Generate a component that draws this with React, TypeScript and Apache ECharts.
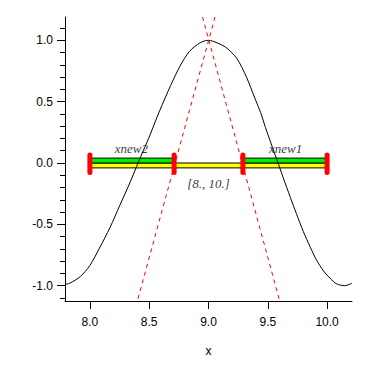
import React, { useEffect, useRef } from "react";
import * as echarts from "echarts";

// black curve
const curveX = [7.79, 7.83, 7.92, 8.0, 8.08, 8.17, 8.25, 8.34, 8.41, 8.45, 8.51, 8.55, 8.59, 8.68, 8.76, 8.84, 8.93, 9.0, 9.07, 9.15, 9.24, 9.32, 9.39, 9.44, 9.48, 9.52, 9.56, 9.59, 9.63, 9.69, 9.74, 9.8, 9.86, 9.91, 9.97, 10.03, 10.08, 10.15, 10.21];
const curveY = [-0.99, -0.98, -0.925, -0.835, -0.695, -0.525, -0.35, -0.155, 0.01, 0.1, 0.235, 0.335, 0.43, 0.63, 0.79, 0.91, 0.98, 1.0, 0.98, 0.94, 0.85, 0.7, 0.53, 0.41, 0.29, 0.18, 0.07, -0.01, -0.12, -0.28, -0.41, -0.56, -0.69, -0.79, -0.88, -0.945, -0.985, -1.0, -0.98];

// red dashed lines (endpoints)
const lineAX = [8.95, 9.6];
const lineAY = [1.19, -1.125];
const lineBX = [9.055, 8.4];
const lineBY = [1.19, -1.125];

// intervals
const barLo = [8.0, 8.0, 9.29];
const barHi = [10.0, 8.71, 10.0];
const barBottom = [-0.04, 0.0, 0.0];
const barTop = [0.0, 0.04, 0.04];
const barColors = ["#ffff00", "#00ee00", "#00ee00"];

const markerX = [8.0, 8.71, 9.29, 10.0];
const markerLow = -0.078;
const markerHigh = 0.066;

const labelTexts = ["xnew2", "xnew1", "[8., 10.]"];
const labelX = [8.35, 9.65, 9.0];
const labelY = [0.117, 0.12, -0.169];

const xTicks = [8.0, 8.5, 9.0, 9.5, 10.0];
const yTicks = [-1.0, -0.5, 0.0, 0.5, 1.0];
const yMinorTicks = [-1.1, -1.0, -0.9, -0.8, -0.7, -0.6, -0.5, -0.4, -0.3, -0.2, -0.1, 0.0, 0.1, 0.2, 0.3, 0.4, 0.5, 0.6, 0.7, 0.8, 0.9, 1.0, 1.1];

const X_MIN = 7.79, X_MAX = 10.21, Y_MIN = -1.125, Y_MAX = 1.19;

const tickFont = "'Liberation Sans Narrow', 'Liberation Sans', Arial, sans-serif";

export default function App() {
  const ref = useRef<HTMLDivElement>(null);
  useEffect(() => {
    if (!ref.current) return;
    const chart = echarts.init(ref.current, null, { renderer: "svg" });
    const series: any[] = [];
    series.push({
      type: "custom",
      xAxisIndex: 0,
      yAxisIndex: 0,
      renderItem: (params: any, api: any) => {
        const i = params.dataIndex;
        const p1 = api.coord([api.value(0), api.value(3)]);
        const p2 = api.coord([api.value(1), api.value(2)]);
        return {
          type: "rect",
          shape: { x: p1[0], y: p1[1], width: p2[0] - p1[0], height: p2[1] - p1[1] },
          style: { fill: barColors[i], stroke: "#000", lineWidth: 1 },
        };
      },
      data: barLo.map((v, i) => [v, barHi[i], barBottom[i], barTop[i]]),
      z: 1,
    });
    series.push({
      type: "line",
      data: curveX.map((x, i) => [x, curveY[i]]),
      smooth: 0.3,
      showSymbol: false,
      lineStyle: { color: "#000", width: 1 },
      z: 2,
    });
    series.push({
      type: "line",
      data: lineAX.map((x, i) => [x, lineAY[i]]),
      showSymbol: false,
      lineStyle: { color: "#ff0000", width: 1, type: [4, 4] },
      z: 3,
    });
    series.push({
      type: "line",
      data: lineBX.map((x, i) => [x, lineBY[i]]),
      showSymbol: false,
      lineStyle: { color: "#ff0000", width: 1, type: [4, 4] },
      z: 3,
    });
    markerX.forEach((mx) => {
      series.push({
        type: "line",
        data: [[mx, markerLow], [mx, markerHigh]],
        showSymbol: false,
        lineStyle: { color: "#ff0000", width: 5, cap: "round" },
        z: 4,
      });
    });
    series.push({
      type: "scatter",
      symbolSize: 0,
      data: labelX.map((x, i) => ({ value: [x, labelY[i]], name: labelTexts[i] })),
      label: {
        show: true,
        position: "inside",
        formatter: (p: any) => p.name,
        fontFamily: "'Liberation Serif', 'Times New Roman', serif",
        fontStyle: "italic",
        fontSize: 13,
        color: "#000",
        textBorderWidth: 0,
        textBorderColor: "transparent",
        textShadowBlur: 0,
      },
      emphasis: { disabled: true },
      z: 5,
    });

    chart.setOption({
      animation: false,
      grid: { left: 65, top: 17, width: 287, height: 284, containLabel: false },
      xAxis: {
        type: "value",
        min: X_MIN,
        max: X_MAX,
        name: "x",
        nameLocation: "middle",
        nameGap: 44,
        nameTextStyle: { color: "#000", fontSize: 12, fontFamily: tickFont },
        axisLine: { show: true, lineStyle: { color: "#000", width: 1 }, onZero: false },
        axisTick: { show: true, length: 8, customValues: xTicks, lineStyle: { color: "#000" } },
        axisLabel: {
          customValues: xTicks,
          formatter: (v: number) => v.toFixed(1),
          color: "#000",
          fontSize: 12,
          fontFamily: tickFont,
          margin: 15,
        },
        splitLine: { show: false },
      },
      yAxis: [
        {
          type: "value",
          min: Y_MIN,
          max: Y_MAX,
          axisLine: { show: true, lineStyle: { color: "#000", width: 1 }, onZero: false },
          axisTick: { show: true, length: 8, customValues: yTicks, lineStyle: { color: "#000" } },
          axisLabel: {
            customValues: yTicks,
            formatter: (v: number) => v.toFixed(1),
            color: "#000",
            fontSize: 12,
            fontFamily: tickFont,
            margin: 12,
          },
          splitLine: { show: false },
        },
        {
          type: "value",
          min: Y_MIN,
          max: Y_MAX,
          position: "left",
          axisLine: { show: false, onZero: false },
          axisTick: { show: true, length: 5, customValues: yMinorTicks, lineStyle: { color: "#000" } },
          axisLabel: { show: false },
          splitLine: { show: false },
        },
      ],
      series,
    });
    return () => chart.dispose();
  }, []);
  return <div ref={ref} style={{ position: "fixed", left: 0, top: 0, width: 382, height: 382, background: "#fff" }} />;
}
